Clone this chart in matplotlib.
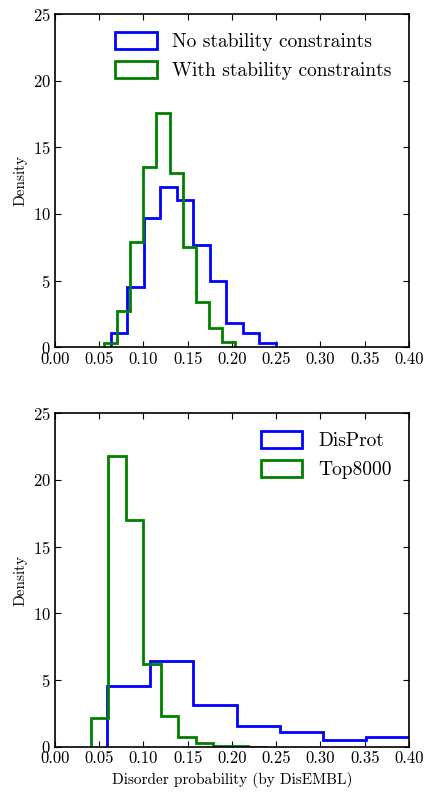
import matplotlib
matplotlib.use('Agg')
import matplotlib.pyplot as plt
import numpy as np

plt.rcParams['font.family'] = 'serif'
plt.rcParams['font.serif'] = ['cmr10']
plt.rcParams['axes.formatter.use_mathtext'] = True

# top panel: stability constraints
no_stab_edges = [0.0633, 0.0819, 0.1005, 0.1191, 0.1377, 0.1563, 0.1749, 0.1935, 0.2121, 0.2307, 0.2493]
no_stab_dens = [1.07, 4.48, 9.7, 12.06, 11.06, 7.66, 4.95, 1.83, 1.03, 0.33]
with_stab_edges = [0.0554, 0.0702, 0.0850, 0.0998, 0.1146, 0.1294, 0.1442, 0.1590, 0.1738, 0.1886, 0.2034]
with_stab_dens = [0.33, 2.7, 7.86, 13.54, 17.6, 13.1, 7.5, 3.38, 1.4, 0.35]

# bottom panel: DisProt vs Top8000
disprot_edges = [0.0584, 0.1073, 0.1562, 0.2051, 0.2540, 0.3029, 0.3518, 0.4007]
disprot_dens = [4.55, 6.47, 3.13, 1.6, 1.15, 0.55, 0.78]
top8000_edges = [0.0403, 0.0601, 0.0799, 0.0997, 0.1195, 0.1393, 0.1591, 0.1789, 0.1987, 0.2185, 0.2383]
top8000_dens = [2.18, 21.76, 17.0, 6.25, 2.3, 0.78, 0.28, 0.1, 0.05, 0.03]

xticks = [0.00, 0.05, 0.10, 0.15, 0.20, 0.25, 0.30, 0.35, 0.40]
yticks = [0, 5, 10, 15, 20, 25]


def step_hist(ax, edges, dens, color, label):
    edges = np.array(edges)
    centers = (edges[:-1] + edges[1:]) / 2
    ax.hist(centers, bins=edges, weights=dens, histtype='step',
            color=color, linewidth=2, label=label)


def style(ax):
    ax.set_xlim(0, 0.40)
    ax.set_ylim(0, 25)
    ax.set_xticks(xticks)
    ax.set_xticklabels(['%.2f' % t for t in xticks])
    ax.set_yticks(yticks)
    ax.tick_params(direction='in', top=True, right=True, length=4, labelsize=12,
                   width=0.8, pad=3)
    for s in ax.spines.values():
        s.set_linewidth(1.2)
    ax.set_ylabel('Density', fontsize=11)


def legend(ax):
    ax.legend(loc='upper right', frameon=False, fontsize=14, handlelength=2.15,
              handleheight=1.0, borderaxespad=0.5, handletextpad=0.8)


fig = plt.figure(figsize=(4.27, 7.96), dpi=100)
ax1 = fig.add_axes([0.1288, 0.564, 0.829, 0.418])
ax2 = fig.add_axes([0.1288, 0.0616, 0.829, 0.4194])

step_hist(ax1, no_stab_edges, no_stab_dens, 'b', 'No stability constraints')
step_hist(ax1, with_stab_edges, with_stab_dens, 'g', 'With stability constraints')
style(ax1)
legend(ax1)

step_hist(ax2, disprot_edges, disprot_dens, 'b', 'DisProt')
step_hist(ax2, top8000_edges, top8000_dens, 'g', 'Top8000')
style(ax2)
ax2.set_xlabel('Disorder probability (by DisEMBL)', fontsize=11)
legend(ax2)

fig.savefig('out.png', dpi=100)
